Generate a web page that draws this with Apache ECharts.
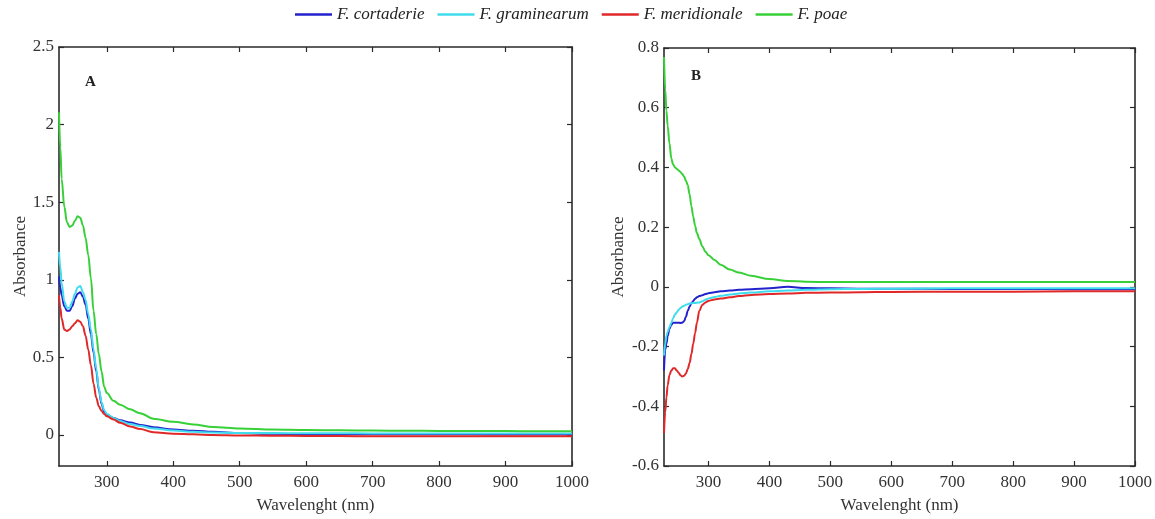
<!DOCTYPE html>
<html><head><meta charset="utf-8">
<script src="https://cdn.jsdelivr.net/npm/echarts@6/dist/echarts.min.js"></script>
<style>html,body{margin:0;padding:0;background:#fff}#c{width:1155px;height:519px}</style>
</head><body><div id="c"></div>
<script>
// ---- data ----
const seriesNames = ['F. cortaderie', 'F. graminearum', 'F. meridionale', 'F. poae'];
const colors = ['#2222cc', '#40dcee', '#e02828', '#38d038'];

// Panel A
const wlA = [228,230,232,236,240,244,248,252,256,260,264,268,272,276,280,284,288,292,296,300,310,320,335,350,370,400,430,460,500,550,600,650,700,750,800,850,900,950,1000];
const cortaderieA = [1.02,0.95,0.90,0.83,0.80,0.80,0.83,0.88,0.91,0.92,0.89,0.84,0.75,0.65,0.53,0.41,0.29,0.20,0.15,0.13,0.11,0.095,0.08,0.065,0.05,0.035,0.027,0.02,0.012,0.008,0.006,0.005,0.005,0.004,0.004,0.004,0.003,0.003,0.003];
const graminearumA = [1.18,1.08,0.98,0.86,0.82,0.82,0.86,0.91,0.95,0.96,0.92,0.87,0.78,0.68,0.55,0.43,0.30,0.21,0.16,0.135,0.11,0.09,0.07,0.058,0.042,0.028,0.02,0.016,0.013,0.012,0.011,0.011,0.01,0.01,0.01,0.01,0.01,0.01,0.01];
const meridionaleA = [0.90,0.82,0.75,0.68,0.67,0.68,0.70,0.72,0.74,0.73,0.70,0.64,0.55,0.45,0.33,0.24,0.185,0.155,0.135,0.12,0.10,0.078,0.055,0.038,0.018,0.008,0.004,0.0,-0.003,-0.005,-0.006,-0.007,-0.008,-0.008,-0.008,-0.009,-0.009,-0.009,-0.009];
const poaeA = [2.08,1.85,1.65,1.47,1.37,1.34,1.35,1.38,1.41,1.40,1.35,1.27,1.16,1.01,0.80,0.65,0.52,0.41,0.31,0.27,0.22,0.195,0.165,0.14,0.105,0.085,0.068,0.052,0.042,0.035,0.032,0.030,0.028,0.027,0.026,0.025,0.025,0.024,0.024];

// Panel B
const wlB = [227,229,231,233,236,239,242,245,248,251,254,257,260,263,266,269,272,275,278,281,285,290,295,300,310,320,335,350,370,400,430,460,500,550,600,700,800,900,1000];
const cortaderieB = [-0.28,-0.21,-0.19,-0.165,-0.14,-0.127,-0.12,-0.12,-0.12,-0.12,-0.121,-0.12,-0.115,-0.10,-0.08,-0.066,-0.055,-0.047,-0.04,-0.035,-0.031,-0.028,-0.024,-0.021,-0.018,-0.015,-0.012,-0.01,-0.008,-0.005,0.0,-0.004,-0.005,-0.006,-0.006,-0.007,-0.007,-0.008,-0.008];
const graminearumB = [-0.23,-0.19,-0.165,-0.15,-0.135,-0.12,-0.105,-0.093,-0.085,-0.077,-0.071,-0.066,-0.063,-0.06,-0.058,-0.056,-0.055,-0.054,-0.054,-0.053,-0.052,-0.048,-0.043,-0.039,-0.034,-0.03,-0.026,-0.022,-0.019,-0.015,-0.012,-0.01,-0.008,-0.007,-0.006,-0.005,-0.005,-0.005,-0.005];
const meridionaleB = [-0.49,-0.42,-0.37,-0.33,-0.295,-0.28,-0.273,-0.273,-0.28,-0.288,-0.296,-0.30,-0.298,-0.29,-0.275,-0.255,-0.225,-0.19,-0.155,-0.12,-0.08,-0.06,-0.052,-0.047,-0.042,-0.039,-0.035,-0.031,-0.027,-0.024,-0.022,-0.02,-0.019,-0.018,-0.017,-0.016,-0.016,-0.015,-0.015];
const poaeB = [0.77,0.66,0.59,0.54,0.48,0.43,0.41,0.40,0.395,0.39,0.385,0.378,0.37,0.355,0.34,0.31,0.27,0.235,0.205,0.18,0.16,0.135,0.118,0.106,0.09,0.074,0.058,0.048,0.037,0.026,0.02,0.017,0.016,0.016,0.016,0.016,0.016,0.016,0.016];

const xTicks = [300,400,500,600,700,800,900,1000];
const yTicksA = [0,0.5,1,1.5,2,2.5];

// ---- chart ----
const font = 'Liberation Serif, Times New Roman, serif';
const axisCol = '#2a2a2a';
const txtCol = '#333';
const chart = echarts.init(document.getElementById('c'));
const pair = (xs, ys) => xs.map((x, i) => [x, ys[i]]);

function xAx(grid, min, top) {
  return {
    type: 'value', gridIndex: grid, min: min, max: 1000, position: top ? 'top' : 'bottom',
    name: top ? '' : 'Wavelenght (nm)', nameLocation: 'middle', nameGap: 31,
    nameTextStyle: {fontFamily: font, fontSize: 17, color: txtCol},
    axisLine: {show: true, onZero: false, lineStyle: {color: axisCol, width: 1.6}},
    axisTick: {show: true, inside: true, length: 5, customValues: xTicks, lineStyle: {color: axisCol, width: 1.2}},
    axisLabel: {show: !top, customValues: xTicks, formatter: v => String(v), fontFamily: font, fontSize: 17, color: txtCol, margin: 8},
    splitLine: {show: false}
  };
}
function yAx(grid, min, max, interval, custom, right, gap) {
  const a = {
    type: 'value', gridIndex: grid, min: min, max: max, position: right ? 'right' : 'left',
    name: right ? '' : 'Absorbance', nameLocation: 'middle', nameGap: gap,
    nameTextStyle: {fontFamily: font, fontSize: 17, color: txtCol},
    axisLine: {show: true, onZero: false, lineStyle: {color: axisCol, width: 1.6}},
    axisTick: {show: true, inside: true, length: 5, lineStyle: {color: axisCol, width: 1.2}},
    axisLabel: {show: !right, fontFamily: font, fontSize: 17, color: txtCol, margin: 5},
    splitLine: {show: false}
  };
  if (custom) { a.axisTick.customValues = custom; a.axisLabel.customValues = custom; }
  else { a.interval = interval; }
  return a;
}

const dataA = [cortaderieA, graminearumA, meridionaleA, poaeA];
const dataB = [cortaderieB, graminearumB, meridionaleB, poaeB];
const series = [];
seriesNames.forEach((n, i) => {
  series.push({name: n, type: 'line', xAxisIndex: 0, yAxisIndex: 0, data: pair(wlA, dataA[i]),
    showSymbol: false, smooth: 0.35, smoothMonotone: 'x', lineStyle: {width: 2, color: colors[i]}, itemStyle: {color: colors[i]}, z: i === 3 ? 3 : 2});
  series.push({name: n, type: 'line', xAxisIndex: 2, yAxisIndex: 2, data: pair(wlB, dataB[i]),
    showSymbol: false, smooth: 0.35, smoothMonotone: 'x', lineStyle: {width: 2, color: colors[i]}, itemStyle: {color: colors[i]}, z: 2});
});

chart.setOption({
  animation: false,
  backgroundColor: '#fff',
  title: [
    {text: 'A', left: 80, top: 70, textStyle: {fontFamily: font, fontSize: 15, fontWeight: 'bold', color: '#222'}},
    {text: 'B', left: 686, top: 64, textStyle: {fontFamily: font, fontSize: 15, fontWeight: 'bold', color: '#222'}}
  ],
  legend: {
    top: 1, left: 290, data: seriesNames, icon: 'rect', itemWidth: 37, itemHeight: 2.5, itemGap: 13,
    textStyle: {fontFamily: font, fontStyle: 'italic', fontSize: 17, color: '#222'}
  },
  grid: [
    {left: 59, top: 47, width: 513, height: 429},
    {left: 664, top: 48, width: 473, height: 429}
  ],
  xAxis: [xAx(0, 228, false), xAx(0, 228, true), xAx(1, 227, false), xAx(1, 227, true)],
  yAxis: [
    yAx(0, -0.2, 2.5, null, yTicksA, false, 28),
    yAx(0, -0.2, 2.5, null, yTicksA, true, 0),
    yAx(1, -0.6, 0.8, 0.2, null, false, 37),
    yAx(1, -0.6, 0.8, 0.2, null, true, 0)
  ],
  series: series
});
</script></body></html>
